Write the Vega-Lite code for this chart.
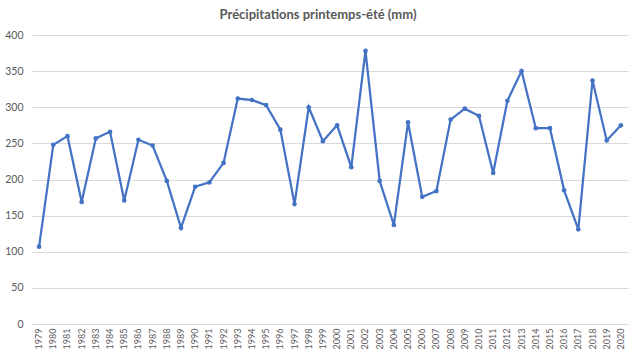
{
  "$schema": "https://vega.github.io/schema/vega-lite/v6.json",
  "width": 596,
  "height": 289,
  "autosize": {"type": "none"},
  "padding": {"left": 32, "top": 35, "right": 12, "bottom": 33},
  "background": "white",
  "title": {
    "text": "Précipitations printemps-été (mm)",
    "font": "Lato",
    "fontSize": 13,
    "fontWeight": "bold",
    "color": "#595959",
    "anchor": "middle",
    "dx": -12,
    "offset": 8
  },
  "config": {"view": {"stroke": null}},
  "data": {"values": [
    {"year": "1979", "mm": 107},
    {"year": "1980", "mm": 248},
    {"year": "1981", "mm": 260},
    {"year": "1982", "mm": 169},
    {"year": "1983", "mm": 257},
    {"year": "1984", "mm": 266},
    {"year": "1985", "mm": 171},
    {"year": "1986", "mm": 255},
    {"year": "1987", "mm": 247},
    {"year": "1988", "mm": 198},
    {"year": "1989", "mm": 133},
    {"year": "1990", "mm": 190},
    {"year": "1991", "mm": 196},
    {"year": "1992", "mm": 223},
    {"year": "1993", "mm": 312},
    {"year": "1994", "mm": 310},
    {"year": "1995", "mm": 303},
    {"year": "1996", "mm": 269},
    {"year": "1997", "mm": 166},
    {"year": "1998", "mm": 300},
    {"year": "1999", "mm": 253},
    {"year": "2000", "mm": 275},
    {"year": "2001", "mm": 217},
    {"year": "2002", "mm": 378},
    {"year": "2003", "mm": 198},
    {"year": "2004", "mm": 137},
    {"year": "2005", "mm": 279},
    {"year": "2006", "mm": 176},
    {"year": "2007", "mm": 184},
    {"year": "2008", "mm": 283},
    {"year": "2009", "mm": 298},
    {"year": "2010", "mm": 288},
    {"year": "2011", "mm": 209},
    {"year": "2012", "mm": 309},
    {"year": "2013", "mm": 350},
    {"year": "2014", "mm": 271},
    {"year": "2015", "mm": 271},
    {"year": "2016", "mm": 185},
    {"year": "2017", "mm": 131},
    {"year": "2018", "mm": 337},
    {"year": "2019", "mm": 254},
    {"year": "2020", "mm": 275}
  ]},
  "mark": {"type": "line", "color": "#4472C4", "strokeWidth": 2.25, "point": {"filled": true, "size": 22, "color": "#4472C4"}},
  "encoding": {
    "x": {
      "field": "year", "type": "ordinal",
      "scale": {"type": "band", "paddingInner": 0, "paddingOuter": 0},
      "axis": {
        "title": null, "labelAngle": -90, "labelFont": "Lato", "labelFontSize": 9,
        "labelColor": "#595959", "ticks": false, "domainColor": "#d9d9d9",
        "labelPadding": 4, "labelBaseline": "middle", "labelAlign": "right"
      }
    },
    "y": {
      "field": "mm", "type": "quantitative",
      "scale": {"domain": [0, 400]},
      "axis": {
        "title": null, "values": [0, 50, 100, 150, 200, 250, 300, 350, 400],
        "labelFont": "Lato", "labelFontSize": 10.5, "labelColor": "#595959",
        "ticks": false, "domain": false, "gridColor": "#d9d9d9", "labelPadding": 9
      }
    }
  }
}
